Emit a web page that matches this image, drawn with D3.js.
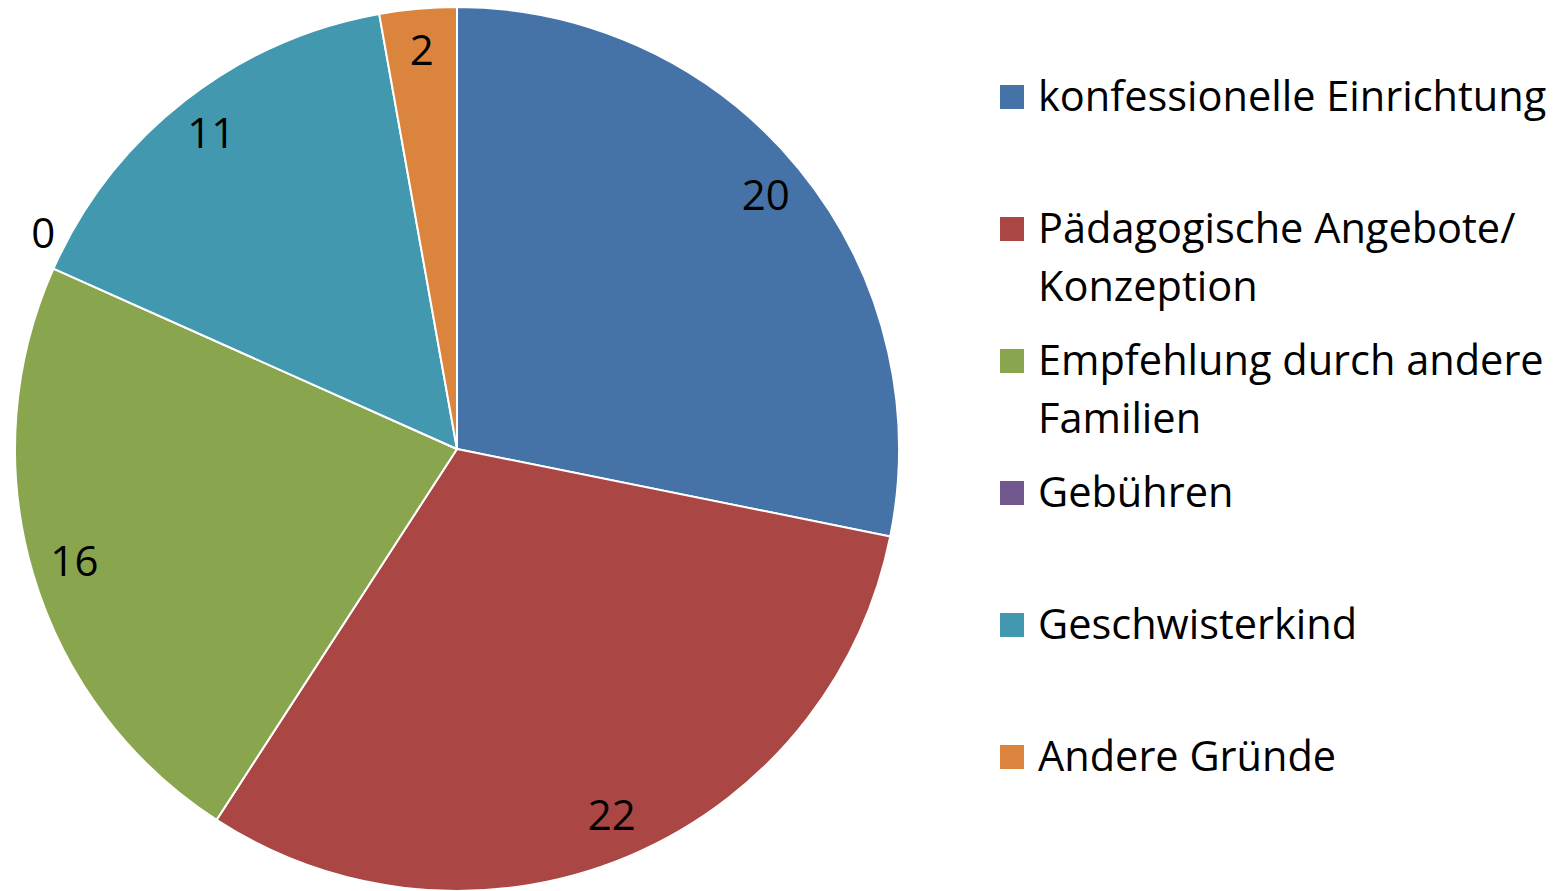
<html>
<head>
<script src="https://d3js.org/d3.v7.min.js"></script>
<style>
  body { margin: 0; background: #fff; }
  text { font-family: "Open Sans", sans-serif; fill: #000; }
</style>
</head>
<body>
<svg id="chart" width="1566" height="891"></svg>
<script>
// data
const categories = ["konfessionelle Einrichtung", "Pädagogische Angebote/ Konzeption",
  "Empfehlung durch andere Familien", "Gebühren", "Geschwisterkind", "Andere Gründe"];
const legendLines = [["konfessionelle Einrichtung"], ["Pädagogische Angebote/", "Konzeption"],
  ["Empfehlung durch andere", "Familien"], ["Gebühren"], ["Geschwisterkind"], ["Andere Gründe"]];
const values = [20, 22, 16, 0, 11, 2];
const colors = ["#4572A7", "#AA4643", "#89A54E", "#71588F", "#4198AF", "#DB843D"];

const svg = d3.select("#chart");
const cx = 457, cy = 449, radius = 442;

const pie = d3.pie().sort(null).value(d => d);
const arcs = pie(values);
const arc = d3.arc().innerRadius(0).outerRadius(radius);
const labelArc = d3.arc().innerRadius(399).outerRadius(399);

const g = svg.append("g").attr("transform", "translate(" + cx + "," + cy + ")");

g.selectAll("path.slice")
  .data(arcs)
  .join("path")
  .attr("class", "slice")
  .attr("d", arc)
  .attr("fill", (d, i) => colors[i])
  .attr("stroke", "#fff")
  .attr("stroke-width", 2)
  .attr("stroke-linejoin", "round");

// data labels (zero slice gets pushed outside like excel does)
g.selectAll("text.lbl")
  .data(arcs)
  .join("text")
  .attr("class", "lbl")
  .attr("text-anchor", "middle")
  .attr("dy", "0.32em")
  .style("font-size", "42px")
  .attr("transform", d => {
    if (d.value === 0) {
      const a = d.startAngle + 0.058;
      return "translate(" + (466 * Math.sin(a)) + "," + (-466 * Math.cos(a)) + ")";
    }
    return "translate(" + labelArc.centroid(d) + ")";
  })
  .text(d => d.value);

// legend
const legend = svg.append("g").attr("transform", "translate(1000,0)");
const rowY = d3.scaleLinear().domain([0, 5]).range([97, 757]);

const rows = legend.selectAll("g.row")
  .data(categories)
  .join("g")
  .attr("class", "row")
  .attr("transform", (d, i) => "translate(0," + rowY(i) + ")");

rows.append("rect")
  .attr("x", 0).attr("y", -12)
  .attr("width", 24).attr("height", 24)
  .attr("fill", (d, i) => colors[i]);

rows.each(function(d, i) {
  const t = d3.select(this).append("text")
    .attr("x", 38)
    .attr("y", 14)
    .style("font-size", "41.5px");
  legendLines[i].forEach((line, j) => {
    t.append("tspan").attr("x", 38).attr("dy", j === 0 ? 0 : 58).text(line);
  });
});
</script>
</body>
</html>
